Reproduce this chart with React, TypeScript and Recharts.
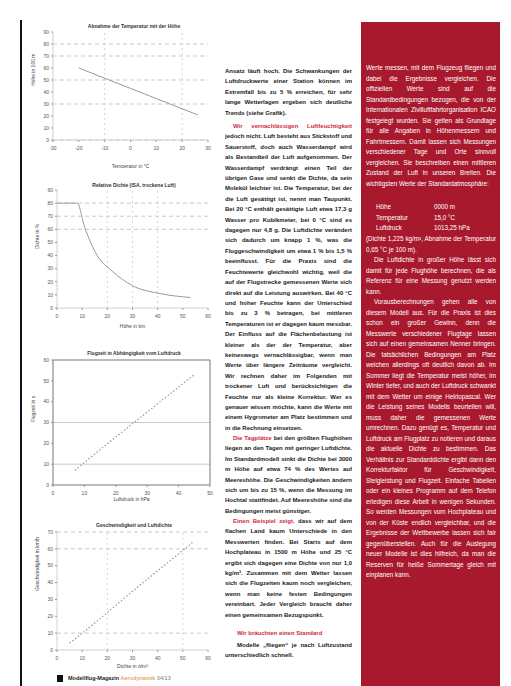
import React from 'react';
import { LineChart, Line, XAxis, YAxis, ReferenceLine } from 'recharts';

// Grafik 1: Temperatur gegen Höhe
const g1Temp = [-20, -10, 0, 10, 20, 26];
const g1Hoehe = [60, 51.5, 43, 34.5, 26, 21];
const g1XTicks = [-30, -20, -10, 0, 10, 20, 30];
const g1YTicks = [0, 10, 20, 30, 40, 50, 60, 70, 80, 90];
const g1HLines = [0, 30, 50, 70, 80];
const g1VLines = [-10, 20];

// Grafik 2: relative Dichte
const g2X = [0, 4, 8, 11, 16, 22, 30, 41, 53];
const g2Y = [80, 80, 80, 61.5, 40, 28, 17, 11, 8];
const g2XTicks = [0, 10, 20, 30, 40, 50, 60];
const g2YTicks = [0, 10, 20, 30, 40, 50, 60, 70, 80, 90];
const g2HLines = [60, 70, 80];
const g2VLines = [20, 30, 40];

// Grafik 3: Luftdruck
const g3X = [7, 15, 25, 35, 45];
const g3Y = [7, 17, 29, 41, 53];
const g3XTicks = [0, 10, 20, 30, 40, 50];
const g3YTicks = [0, 10, 20, 30, 40, 50, 60];
const g3HLines = [10, 30];

// Grafik 4: Geschwindigkeit
const g4X = [5, 15, 25, 35, 45, 54];
const g4Y = [4, 16, 28.5, 41, 53, 64];
const g4XTicks = [0, 10, 20, 30, 40, 50, 60];
const g4YTicks = [0, 10, 20, 30, 40, 50, 60, 70];
const g4HLines = [10, 60, 70];
const g4VLines = [20, 50];

const FONT = '"Liberation Sans", Arial, sans-serif';
const RED = '#a8192e';

type MiniProps = {
  left: number;
  top: number;
  width: number;
  height: number;
  margin: { top: number; right: number; bottom: number; left: number };
  xs: number[];
  ys: number[];
  xTicks: number[];
  yTicks: number[];
  hLines: number[];
  vLines: number[];
  xLabel: string;
  yLabel: string;
  xAxisHeight: number;
  title: string;
  titleTop: number;
  dotted?: boolean;
  boxed?: boolean;
};

function MiniChart(p: MiniProps) {
  const data = p.xs.map((x, i) => ({ x, y: p.ys[i] }));
  const tick = { fontSize: 5, fill: '#555', fontFamily: FONT };
  const axisStroke = p.boxed ? '#777' : '#d0d0d0';
  return (
    <>
      <div
        style={{
          position: 'absolute',
          left: p.left,
          top: p.titleTop,
          width: p.width,
          boxSizing: 'border-box',
          paddingLeft: 28,
          textAlign: 'center',
          fontSize: 5,
          fontWeight: 'bold',
          color: '#333',
          fontFamily: FONT,
          lineHeight: '7px',
        }}
      >
        {p.title}
      </div>
      <div style={{ position: 'absolute', left: p.left, top: p.top }}>
        <LineChart width={p.width} height={p.height} data={data} margin={p.margin}>
          <XAxis
            type="number"
            dataKey="x"
            domain={[p.xTicks[0], p.xTicks[p.xTicks.length - 1]]}
            ticks={p.xTicks}
            interval={0}
            tick={tick}
            tickSize={2}
            tickMargin={4}
            height={p.xAxisHeight}
            axisLine={{ stroke: axisStroke }}
            tickLine={{ stroke: '#999' }}
            label={{ value: p.xLabel, position: 'insideBottom', offset: 0, fontSize: 5, fill: '#444', fontFamily: FONT }}
          />
          <YAxis
            type="number"
            domain={[p.yTicks[0], p.yTicks[p.yTicks.length - 1]]}
            ticks={p.yTicks}
            interval={0}
            width={22}
            tick={tick}
            tickSize={2}
            tickMargin={2}
            axisLine={{ stroke: axisStroke }}
            tickLine={{ stroke: '#999' }}
            label={{ value: p.yLabel, angle: -90, position: 'insideLeft', offset: 2, fontSize: 5, fill: '#444', fontFamily: FONT }}
          />
          {p.boxed && (
            <XAxis xAxisId="top" orientation="top" type="number" dataKey="x" domain={[p.xTicks[0], p.xTicks[p.xTicks.length - 1]]} tick={false} tickLine={false} height={1} axisLine={{ stroke: '#777' }} />
          )}
          {p.boxed && (
            <YAxis yAxisId="right" orientation="right" type="number" domain={[p.yTicks[0], p.yTicks[p.yTicks.length - 1]]} tick={false} tickLine={false} width={1} axisLine={{ stroke: '#777' }} />
          )}
          {p.hLines.map((v) => (
            <ReferenceLine key={'h' + v} y={v} stroke="#bbb" strokeDasharray={p.boxed ? undefined : '4 3'} strokeWidth={0.8} />
          ))}
          {p.vLines.map((v) => (
            <ReferenceLine key={'v' + v} x={v} stroke="#ccc" strokeDasharray="2 3" strokeWidth={0.8} />
          ))}
          <Line
            type="monotone"
            dataKey="y"
            stroke="#999"
            strokeWidth={p.dotted ? 1.2 : 1}
            strokeDasharray={p.dotted ? '1.5 2' : undefined}
            dot={false}
            isAnimationActive={false}
          />
        </LineChart>
      </div>
    </>
  );
}

const colText: React.CSSProperties = {
  position: 'absolute',
  left: 225,
  width: 127,
  fontFamily: FONT,
  fontSize: 6,
  fontWeight: 'bold',
  lineHeight: '10.4px',
  textAlign: 'justify',
  color: '#1a1a1a',
  overflow: 'hidden',
};

const sideText: React.CSSProperties = {
  position: 'absolute',
  left: 366,
  width: 130,
  fontFamily: FONT,
  fontSize: 6.3,
  lineHeight: '10.5px',
  textAlign: 'justify',
  color: '#fff',
  overflow: 'hidden',
};

const redSpan: React.CSSProperties = { color: '#d0293f' };

export default function App() {
  return (
    <div
      style={{
        position: 'absolute',
        left: 0,
        top: 0,
        width: 511,
        height: 686,
        background: '#fff',
        overflow: 'hidden',
        fontFamily: FONT,
      }}
    >
      <div style={{ position: 'absolute', left: 20, top: 20, width: 2, height: 666, background: '#111' }} />

      <MiniChart
        left={25}
        top={22}
        width={190}
        height={146}
        margin={{ top: 10, right: 7, bottom: 0, left: 6 }}
        xs={g1Temp}
        ys={g1Hoehe}
        xTicks={g1XTicks}
        yTicks={g1YTicks}
        hLines={g1HLines}
        vLines={g1VLines}
        xLabel="Temperatur in °C"
        yLabel="Höhe in 100 m"
        xAxisHeight={28}
        title="Abnahme der Temperatur mit der Höhe"
        titleTop={23}
      />
      <MiniChart
        left={25}
        top={182}
        width={190}
        height={146}
        margin={{ top: 8, right: 7, bottom: 0, left: 10 }}
        xs={g2X}
        ys={g2Y}
        xTicks={g2XTicks}
        yTicks={g2YTicks}
        hLines={g2HLines}
        vLines={g2VLines}
        xLabel="Höhe in km"
        yLabel="Dichte in %"
        xAxisHeight={20}
        title="Relative Dichte (ISA, trockene Luft)"
        titleTop={182}
      />
      <MiniChart
        left={25}
        top={350}
        width={190}
        height={151}
        margin={{ top: 9, right: 4, bottom: 0, left: 6 }}
        xs={g3X}
        ys={g3Y}
        xTicks={g3XTicks}
        yTicks={g3YTicks}
        hLines={g3HLines}
        vLines={[]}
        xLabel="Luftdruck in hPa"
        yLabel="Flugzeit in s"
        xAxisHeight={16}
        title="Flugzeit in Abhängigkeit vom Luftdruck"
        titleTop={350}
        dotted
        boxed
      />
      <MiniChart
        left={25}
        top={522}
        width={190}
        height={146}
        margin={{ top: 10, right: 7, bottom: 0, left: 10 }}
        xs={g4X}
        ys={g4Y}
        xTicks={g4XTicks}
        yTicks={g4YTicks}
        hLines={g4HLines}
        vLines={g4VLines}
        xLabel="Dichte in g/m³"
        yLabel="Geschwindigkeit in km/h"
        xAxisHeight={18}
        title="Geschwindigkeit und Luftdichte"
        titleTop={522}
        dotted
      />

      {/* Fußzeile */}
      <div style={{ position: 'absolute', left: 57, top: 675, width: 6, height: 7, background: '#111' }} />
      <div style={{ position: 'absolute', left: 68, top: 675, fontFamily: FONT, fontSize: 5.5, lineHeight: '7px', whiteSpace: 'nowrap' }}>
        <b style={{ color: '#222' }}>Modellflug-Magazin</b>{' '}
        <b style={{ color: '#e8a46a' }}>Aerodynamik</b>{' '}
        <span style={{ color: '#777' }}>04/13</span>
      </div>

      {/* Mittlere Textspalte */}
      <div style={{ ...colText, top: 66, height: 52 }}>
        Ansatz läuft hoch. Die Schwankungen der Luftdruckwerte einer Station können im Extremfall bis zu 5 % erreichen, für sehr lange Wetterlagen ergeben sich deutliche Trends (siehe Grafik).
      </div>
      <div style={{ ...colText, top: 121, height: 310, textIndent: 8 }}>
        <span style={redSpan}>Wir vernachlässigen Luftfeuchtigkeit</span>{' '}
        <span>jedoch nicht. Luft besteht aus Stickstoff und Sauerstoff, doch auch Wasserdampf wird als Bestandteil der Luft aufgenommen. Der Wasserdampf verdrängt einen Teil der übrigen Gase und senkt die Dichte, da sein Molekül leichter ist. Die Temperatur, bei der die Luft gesättigt ist, nennt man Taupunkt. Bei 20 °C enthält gesättigte Luft etwa 17,3 g Wasser pro Kubikmeter, bei 0 °C sind es dagegen nur 4,8 g. Die Luftdichte verändert sich dadurch um knapp 1 %, was die Fluggeschwindigkeit um etwa 1 % bis 1,5 % beeinflusst. Für die Praxis sind die Feuchtewerte gleichwohl wichtig, weil die auf der Flugstrecke gemessenen Werte sich direkt auf die Leistung auswirken. Bei 40 °C und hoher Feuchte kann der Unterschied bis zu 3 % betragen, bei mittleren Temperaturen ist er dagegen kaum messbar. Der Einfluss auf die Flächenbelastung ist kleiner als der der Temperatur, aber keineswegs vernachlässigbar, wenn man Werte über längere Zeiträume vergleicht. Wir rechnen daher im Folgenden mit trockener Luft und berücksichtigen die Feuchte nur als kleine Korrektur. Wer es genauer wissen möchte, kann die Werte mit einem Hygrometer am Platz bestimmen und in die Rechnung einsetzen.</span>
      </div>
      <div style={{ ...colText, top: 433, height: 81, textIndent: 8 }}>
        <span style={redSpan}>Die Tagplätze</span>{' '}
        <span>bei den größten Flughöhen liegen an den Tagen mit geringer Luftdichte. Im Standardmodell sinkt die Dichte bei 3000 m Höhe auf etwa 74 % des Wertes auf Meereshöhe. Die Geschwindigkeiten ändern sich um bis zu 15 %, wenn die Messung im Hochtal stattfindet. Auf Meereshöhe sind die Bedingungen meist günstiger.</span>
      </div>
      <div style={{ ...colText, top: 516, height: 102, textIndent: 8 }}>
        <span style={redSpan}>Einen Beispiel zeigt,</span>{' '}
        <span>dass wir auf dem flachen Land kaum Unterschiede in den Messwerten finden. Bei Starts auf dem Hochplateau in 1500 m Höhe und 25 °C ergibt sich dagegen eine Dichte von nur 1,0 kg/m³. Zusammen mit dem Wetter lassen sich die Flugzeiten kaum noch vergleichen, wenn man keine festen Bedingungen vereinbart. Jeder Vergleich braucht daher einen gemeinsamen Bezugspunkt.</span>
      </div>
      <div style={{ ...colText, top: 628, height: 10.4, textIndent: 12, textAlign: 'left' }}>
        <span style={redSpan}>Wir bräuchten einen Standard</span>
      </div>
      <div style={{ ...colText, top: 640, height: 22, textIndent: 12 }}>
        Modelle „fliegen“ je nach Luftzustand unterschiedlich schnell.
      </div>

      {/* Roter Kasten */}
      <div style={{ position: 'absolute', left: 361, top: 22, width: 139, height: 664, background: RED }} />
      <div style={{ ...sideText, top: 63, height: 137 }}>
        Werte messen, mit dem Flugzeug fliegen und dabei die Ergebnisse vergleichen. Die offiziellen Werte sind auf die Standardbedingungen bezogen, die von der Internationalen Zivilluftfahrtorganisation ICAO festgelegt wurden. Sie gelten als Grundlage für alle Angaben in Höhenmessern und Fahrtmessern. Damit lassen sich Messungen verschiedener Tage und Orte sinnvoll vergleichen. Sie beschreiben einen mittleren Zustand der Luft in unseren Breiten. Die wichtigsten Werte der Standardatmosphäre:
      </div>
      <div style={{ ...sideText, top: 202, height: 32, textAlign: 'left' }}>
        {[
          ['Höhe', '0000 m'],
          ['Temperatur', '15,0 °C'],
          ['Luftdruck', '1013,25 hPa'],
        ].map(([k, v]) => (
          <div key={k} style={{ display: 'flex' }}>
            <span style={{ width: 58, paddingLeft: 10 }}>{k}</span>
            <span>{v}</span>
          </div>
        ))}
      </div>
      <div style={{ ...sideText, top: 234, height: 21 }}>
        (Dichte 1,225 kg/m³, Abnahme der Temperatur 0,65 °C je 100 m).
      </div>
      <div style={{ ...sideText, top: 255, height: 42, textIndent: 8 }}>
        Die Luftdichte in großer Höhe lässt sich damit für jede Flughöhe berechnen, die als Referenz für eine Messung genutzt werden kann.
      </div>
      <div style={{ ...sideText, top: 297, height: 283, textIndent: 8 }}>
        Vorausberechnungen gehen alle von diesem Modell aus. Für die Praxis ist dies schon ein großer Gewinn, denn die Messwerte verschiedener Flugtage lassen sich auf einen gemeinsamen Nenner bringen. Die tatsächlichen Bedingungen am Platz weichen allerdings oft deutlich davon ab. Im Sommer liegt die Temperatur meist höher, im Winter tiefer, und auch der Luftdruck schwankt mit dem Wetter um einige Hektopascal. Wer die Leistung seines Modells beurteilen will, muss daher die gemessenen Werte umrechnen. Dazu genügt es, Temperatur und Luftdruck am Flugplatz zu notieren und daraus die aktuelle Dichte zu bestimmen. Das Verhältnis zur Standarddichte ergibt dann den Korrekturfaktor für Geschwindigkeit, Steigleistung und Flugzeit. Einfache Tabellen oder ein kleines Programm auf dem Telefon erledigen diese Arbeit in wenigen Sekunden. So werden Messungen vom Hochplateau und von der Küste endlich vergleichbar, und die Ergebnisse der Wettbewerbe lassen sich fair gegenüberstellen. Auch für die Auslegung neuer Modelle ist dies hilfreich, da man die Reserven für heiße Sommertage gleich mit einplanen kann.
      </div>
    </div>
  );
}
